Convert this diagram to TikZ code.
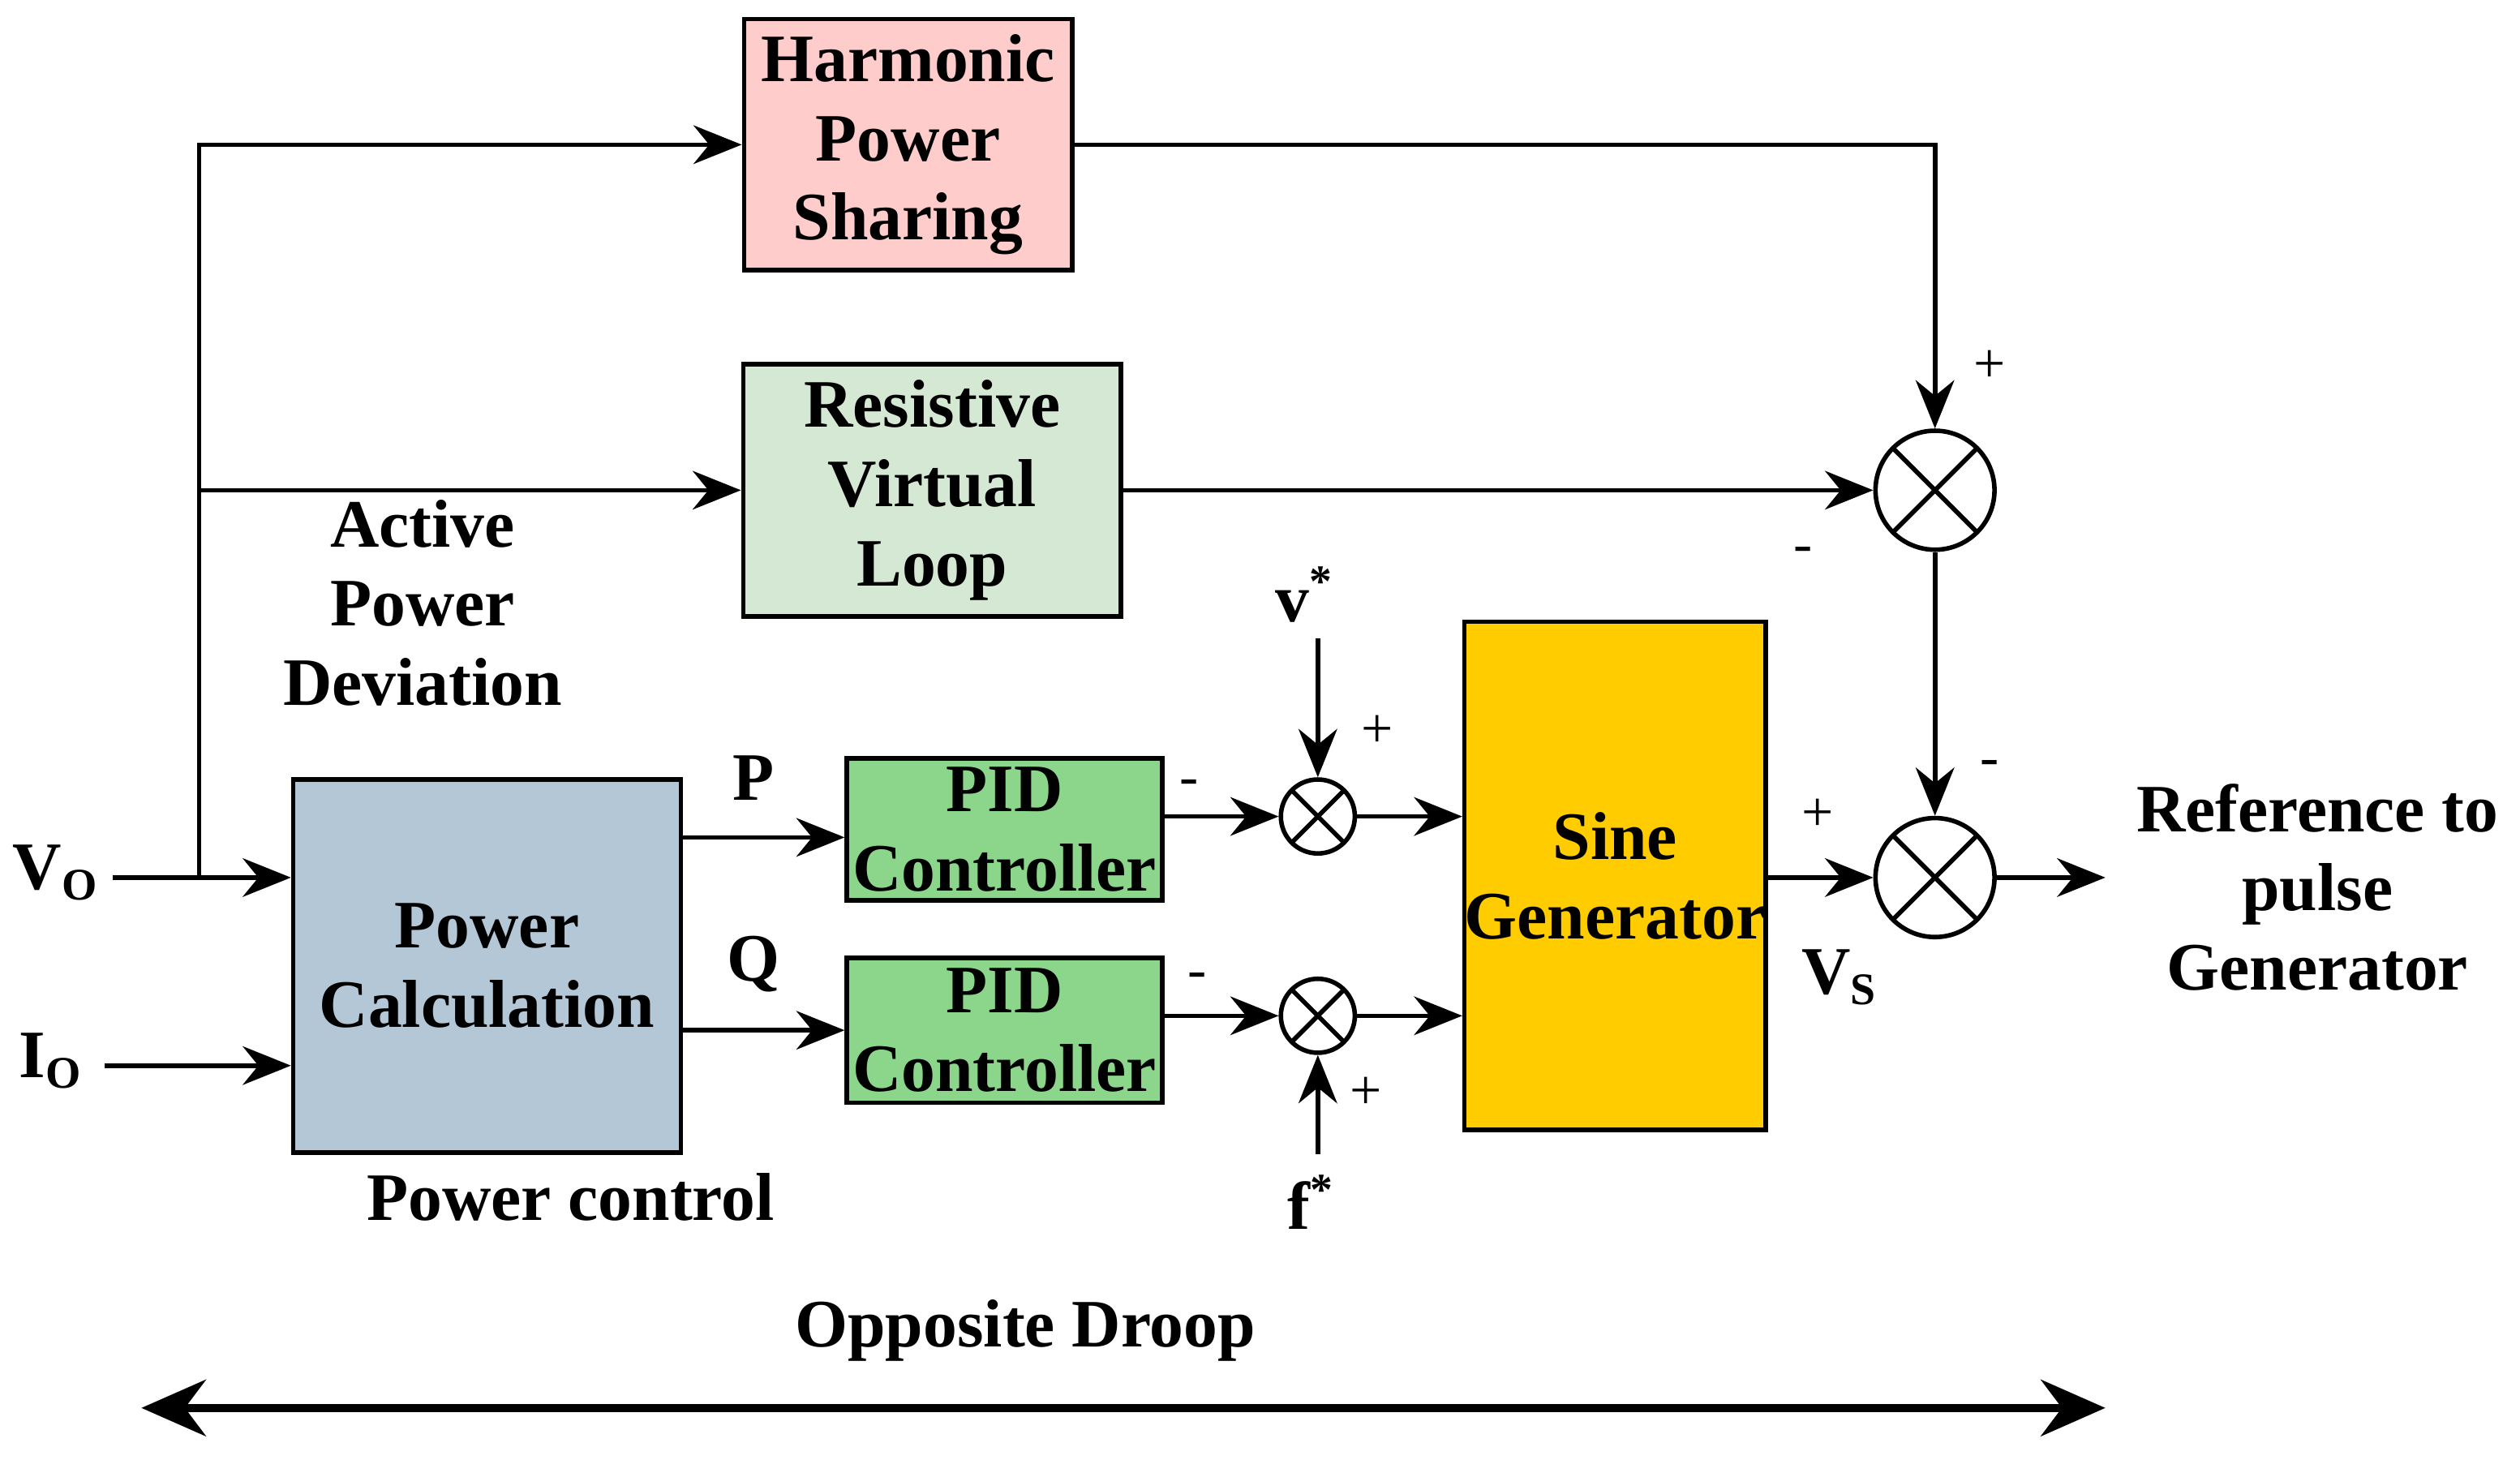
\documentclass[tikz,border=0pt]{standalone}
\usepackage{fontspec}
\setmainfont{Liberation Serif}
\usetikzlibrary{arrows.meta}
\begin{document}
\begin{tikzpicture}[x=0.01cm,y=-0.01cm,
    every node/.style={font=\large\bfseries},
    blk/.style={draw=black, thick, align=center, inner sep=0pt},
    sumbig/.style={draw=black, thick, circle, minimum size=0.74cm, inner sep=0pt,
        path picture={\draw[thick] (path picture bounding box.north west) -- (path picture bounding box.south east)
        (path picture bounding box.north east) -- (path picture bounding box.south west);}},
    sumsmall/.style={sumbig, minimum size=0.46cm},
    arr/.style={thick, -{Stealth[length=3mm,width=2.4mm]}},
    sgn/.style={font=\normalsize}
  ]
  \useasboundingbox (0,0) rectangle (1568,908);

  % blocks
  \node[blk, fill={rgb,255:red,255;green,204;blue,204}, minimum width=2.04cm, minimum height=1.56cm] (harm) at (565,90) {Harmonic\\Power\\Sharing};
  \node[blk, fill={rgb,255:red,213;green,232;blue,212}, minimum width=2.35cm, minimum height=1.57cm] (res) at (580,305) {Resistive\\Virtual\\Loop};
  \node[blk, fill={rgb,255:red,180;green,199;blue,214}, minimum width=2.41cm, minimum height=2.32cm] (pc) at (303,601) {Power\\Calculation};
  \node[blk, fill={rgb,255:red,140;green,214;blue,140}, minimum width=1.96cm, minimum height=0.88cm] (pid1) at (625,516) {PID\\Controller};
  \node[blk, fill={rgb,255:red,140;green,214;blue,140}, minimum width=1.96cm, minimum height=0.90cm] (pid2) at (625,641) {PID\\Controller};
  \node[blk, fill={rgb,255:red,255;green,204;blue,0}, minimum width=1.87cm, minimum height=3.16cm] (sine) at (1005,545) {Sine\\Generator};

  % summing junctions
  \node[sumbig] (s1) at (1204,305) {};
  \node[sumbig] (s2) at (1204,546) {};
  \node[sumsmall] (sp) at (820,508) {};
  \node[sumsmall] (sq) at (820,632) {};

  % inputs
  \coordinate (vo) at (70,546);
  \coordinate (io) at (65,663);
  \coordinate (br) at (124,546);
  \coordinate (vstar) at (820,397);
  \coordinate (fstar) at (820,718);
  \coordinate (out) at (1310,546);
  \node (lvo) at (35,543) {V\textsubscript{O}};
  \node (lio) at (32,660) {I\textsubscript{O}};
  \node (lv) at (812,370) {v\textsuperscript{*}};
  \node (lf) at (816,748) {f\textsuperscript{*}};

  % connectors
  \draw[arr] (vo) -- (vo -| pc.west);
  \draw[arr] (io) -- (io -| pc.west);
  \draw[arr] (br) |- (harm.west);
  \draw[arr] (br |- res.west) -- (res.west);
  \draw[arr] (pc.east |- 0,521) -- (pid1.west |- 0,521);
  \draw[arr] (pc.east |- 0,641) -- (pid2.west |- 0,641);
  \draw[arr] (pid1.east |- sp) -- (sp.west);
  \draw[arr] (pid2.east |- sq) -- (sq.west);
  \draw[arr] (sp.east) -- (sine.west |- sp);
  \draw[arr] (sq.east) -- (sine.west |- sq);
  \draw[arr] (vstar) -- (sp.north);
  \draw[arr] (fstar) -- (sq.south);
  \draw[arr] (harm.east) -| (s1.north);
  \draw[arr] (res.east) -- (s1.west);
  \draw[arr] (s1.south) -- (s2.north);
  \draw[arr] (sine.east |- s2) -- (s2.west);
  \draw[arr] (s2.east) -- (out);

  % signs
  \node[sgn] (p1) at (1238,228) {+};
  \node[sgn] (m1) at (1122,345) {-};
  \node[sgn] (p2) at (1131,507) {+};
  \node[sgn] (m2) at (1238,478) {-};
  \node[sgn] (p3) at (857,455) {+};
  \node[sgn] (m3) at (740,490) {-};
  \node[sgn] (m4) at (745,610) {-};
  \node[sgn] (p4) at (850,680) {+};

  % labels
  \node (lp) at (469,484) {P};
  \node (lq) at (469,600) {Q};
  \node (lvs) at (1145,608) {V\textsubscript{S}};
  \node[align=center] (lapd) at (263,375) {Active\\Power\\Deviation};
  \node (lpcl) at (355,745) {Power control};
  \node[align=center] (lref) at (1442,552) {Reference to\\pulse\\Generator};
  \node (lod) at (638,828) {Opposite Droop};

  % droop span
  \coordinate (dl) at (88,876);
  \coordinate (dr) at (1310,876);
  \draw[line width=1.5pt, {Stealth[length=4mm,width=3.5mm]}-{Stealth[length=4mm,width=3.5mm]}] (dl) -- (dr);
\end{tikzpicture}
\end{document}
